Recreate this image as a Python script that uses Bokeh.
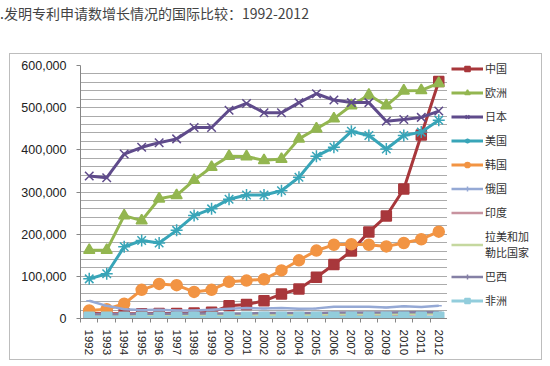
from bokeh.plotting import figure
from bokeh.models import (Div, Legend, LegendItem, FixedTicker, SingleIntervalTicker,
                          NumeralTickFormatter, Range1d, InlineStyleSheet)
from bokeh.layouts import column, row
from bokeh.embed import file_html
from bokeh.resources import INLINE

# ---------------- data ----------------
title_text = ".发明专利申请数增长情况的国际比较：1992-2012"
years = list(range(1992, 2013))
year_labels = [str(y) for y in years]

china = [12000, 11000, 11000, 11000, 12000, 12000, 13000, 15000, 30000, 33000, 42000,
         58000, 70000, 98000, 128000, 160000, 205000, 243000, 307000, 435000, 562000]
europe = [162000, 162000, 244000, 232000, 284000, 292000, 328000, 359000, 385000, 384000, 375000,
          378000, 426000, 450000, 474000, 505000, 530000, 505000, 540000, 541000, 558000]
japan = [338000, 334000, 390000, 406000, 417000, 426000, 453000, 453000, 494000, 510000, 488000,
         488000, 512000, 533000, 518000, 512000, 512000, 468000, 472000, 477000, 492000]
usa = [94000, 106000, 170000, 185000, 179000, 209000, 244000, 260000, 283000, 293000, 293000,
       303000, 335000, 385000, 406000, 444000, 434000, 402000, 434000, 442000, 470000]
korea = [19000, 22000, 35000, 68000, 82000, 79000, 63000, 68000, 87000, 90000, 93000,
         114000, 138000, 161000, 175000, 176000, 175000, 171000, 179000, 188000, 206000]
russia = [42000, 30000, 22000, 20000, 21000, 19000, 19000, 21000, 23000, 25000, 24000,
          25000, 23000, 24000, 28000, 28000, 28000, 26000, 29000, 27000, 30000]
india = [3000, 3000, 3000, 4000, 4000, 4000, 5000, 5000, 5000, 5000, 6000,
         6000, 7000, 7000, 8000, 8000, 9000, 9000, 9000, 10000, 10000]
latin = [7000, 7000, 7000, 7000, 8000, 8000, 8000, 8000, 8000, 9000, 9000,
         9000, 9000, 9000, 10000, 10000, 10000, 10000, 11000, 11000, 11000]
brazil = [10000, 10000, 10000, 11000, 11000, 11000, 12000, 12000, 12000, 12000, 13000,
          13000, 13000, 13000, 14000, 14000, 14000, 14000, 15000, 15000, 15000]
africa = [3000, 3000, 3000, 3000, 3000, 3000, 3000, 3000, 3000, 3000, 3000,
          3000, 3000, 3000, 3000, 3000, 3000, 3000, 3000, 3000, 3000]

# name, values, colour, chart marker, chart size, legend marker, line width
series = [
    ("中国", china, "#A8373B", "square", 10, "square", 3),
    ("欧洲", europe, "#93B650", "triangle", 11, "triangle", 3),
    ("日本", japan, "#5F4B8B", "x", 12, "x", 3),
    ("美国", usa, "#38A5B8", "asterisk", 12, "asterisk", 3),
    ("韩国", korea, "#F29443", "circle", 11, "circle", 3),
    ("俄国", russia, "#95A9D5", "dash", 6, "cross", 2.5),
    ("印度", india, "#C8939F", None, 0, None, 2.5),
    ("拉美和加\n勒比国家", latin, "#C5D89F", None, 0, None, 2.5),
    ("巴西", brazil, "#8580A5", "dash", 6, "cross", 2.5),
    ("非洲", africa, "#92CDDC", "square", 10, "square", 3),
]
BORDER = "#BDBDBD"


def draw(fig, vals, color, marker, size, lw):
    rs = [fig.line(years, vals, line_color=color, line_width=lw)]
    if marker:
        rs.append(fig.scatter(years, vals, marker=marker, size=size, fill_color=color,
                              line_color=color, line_width=1.5))
    return rs


# ---------------- main chart ----------------
p = figure(width=437, height=305, output_backend="svg", toolbar_location=None,
           x_range=Range1d(years[0] - 0.5, years[-1] + 0.5), y_range=Range1d(0, 600000),
           min_border_left=70, min_border_right=0, min_border_top=11, min_border_bottom=41)
p.outline_line_color = None
p.background_fill_color = "white"
p.border_fill_color = "white"

for name, vals, color, m, ms, lm, lw in series:
    draw(p, vals, color, m, ms, lw)

p.xaxis.ticker = FixedTicker(ticks=years, minor_ticks=[y - 0.5 for y in years] + [years[-1] + 0.5])
p.xaxis.major_label_overrides = {y: l for y, l in zip(years, year_labels)}
p.xaxis.major_label_orientation = "vertical"
p.xaxis.major_tick_line_color = None
p.xaxis.minor_tick_in = 0
p.xaxis.minor_tick_out = 4
p.xaxis.minor_tick_line_color = "#868686"
p.xaxis.axis_line_color = "#868686"
p.xaxis.major_label_text_font = "Liberation Sans"
p.xaxis.major_label_text_font_size = "11.5px"
p.xaxis.major_label_text_color = "#222222"
p.xaxis.major_label_standoff = 5

p.yaxis.ticker = SingleIntervalTicker(interval=100000, num_minor_ticks=5)
p.yaxis.formatter = NumeralTickFormatter(format="0,0")
p.yaxis.major_tick_in = 0
p.yaxis.major_tick_out = 4
p.yaxis.major_tick_line_color = "#868686"
p.yaxis.minor_tick_line_color = None
p.yaxis.axis_line_color = "#868686"
p.yaxis.major_label_text_font = "Liberation Sans"
p.yaxis.major_label_text_font_size = "12.5px"
p.yaxis.major_label_text_color = "#222222"
p.yaxis.major_label_standoff = 10

p.xgrid.grid_line_color = None
p.ygrid.grid_line_color = "#ABABAB"
p.ygrid.minor_grid_line_color = "#ABABAB"

# ---------------- legend panel (same series; ranges keep the lines out of view) ----------------
lf = figure(width=94, height=305, output_backend="svg", toolbar_location=None,
            x_range=Range1d(0, 1), y_range=Range1d(0, 1),
            x_axis_location=None, y_axis_location=None,
            min_border_left=0, min_border_right=0, min_border_top=0, min_border_bottom=0)
lf.grid.visible = False
lf.outline_line_color = None
lf.background_fill_color = "white"
lf.border_fill_color = "white"

items = []
for name, vals, color, m, ms, lm, lw in series:
    items.append(LegendItem(label=name, renderers=draw(lf, vals, color, lm, 6, lw)))
legend = Legend(items=items, location=(4, 51), border_line_color=None,
                background_fill_alpha=0, padding=3, margin=0, spacing=8,
                glyph_width=32, glyph_height=13, label_height=13, label_standoff=2,
                label_text_font="Noto Sans CJK SC", label_text_font_size="11px",
                label_text_color="#333333", label_text_line_height=1.0)
lf.add_layout(legend, "center")

outline_css = InlineStyleSheet(css=":host { outline: 1px solid #BDBDBD !important; "
                                   "box-shadow: 0 0 0 1px #BDBDBD; }")
chart = row(p, column(lf, spacing=0), spacing=0, margin=(1, 0, 0, 10),
            stylesheets=[outline_css])

title = Div(text=title_text, width=540, height=53, margin=0,
            styles={"font-family": "Noto Sans CJK SC", "font-size": "14px",
                    "color": "#444444", "line-height": "26px", "white-space": "nowrap"})

layout = column(title, chart, spacing=0)
open("out.html", "w").write(file_html(layout, INLINE))
